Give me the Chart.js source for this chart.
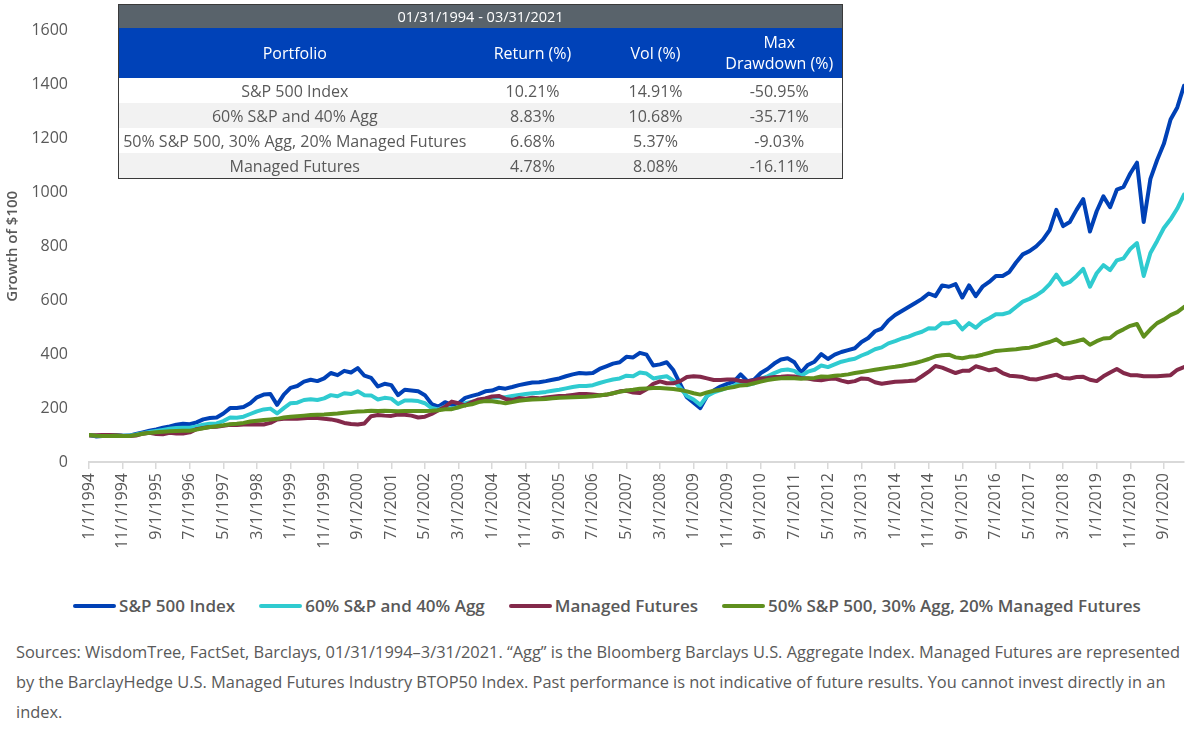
<!DOCTYPE html>
<html>
<head>
<meta charset="utf-8">
<title>Growth of $100</title>
<script src="https://cdn.jsdelivr.net/npm/chart.js@4.4.0/dist/chart.umd.min.js"></script>
<style>
  body { margin: 0; background: #fff; font-family: 'Open Sans', sans-serif; }
  #wrap { position: relative; width: 1200px; height: 735px; overflow: hidden; }
  #growth { position: absolute; left: 0; top: 0; }
  #stats { position: absolute; left: 118px; top: 4px; width: 724px; border-collapse: collapse;
           border: 1.5px solid #3a3a3a; table-layout: fixed; color: #595959; font-size: 16px; }
  #stats td, #stats th { padding: 0; text-align: center; white-space: nowrap; }
  #stats .period td { height: 23px; background: #59636b; color: #fff; font-size: 14.5px; }
  #stats .head th { height: 50px; background: #0042b8; color: #fff; font-weight: 400; line-height: 1.3; }
  #stats .row td { height: 25px; background: #fff; }
  #stats .row:nth-child(even) td { background: #f2f2f2; }
  #legend { position: absolute; left: 14px; top: 594px; width: 1186px; display: flex;
            justify-content: center; gap: 24px; font-weight: 600; font-size: 17px; color: #595959; }
  #legend .item { display: flex; align-items: center; }
  #legend .swatch { width: 43px; height: 4px; border-radius: 2px; margin-right: 3px; }
  #source { position: absolute; left: 16px; top: 637px; font-size: 16.4px; line-height: 30px;
            color: #595959; white-space: nowrap; }
</style>
</head>
<body>
<div id="wrap">
  <canvas id="growth" width="1200" height="565"></canvas>
  <table id="stats"></table>
  <div id="legend"></div>
  <div id="source">Sources: WisdomTree, FactSet, Barclays, 01/31/1994–3/31/2021. “Agg” is the Bloomberg Barclays U.S. Aggregate Index. Managed Futures are represented<br>by the BarclayHedge U.S. Managed Futures Industry BTOP50 Index. Past performance is not indicative of future results. You cannot invest directly in an<br>index.</div>
</div>
<script>
// month index from Jan 1994, one point every two months
const months = [0,2,4,6,8,10,12,14,16,18,20,22,24,26,28,30,32,34,36,38,40,42,44,46,48,50,52,54,56,58,
  60,62,64,66,68,70,72,74,76,78,80,82,84,86,88,90,92,94,96,98,100,102,104,106,108,110,112,114,116,118,
  120,122,124,126,128,130,132,134,136,138,140,142,144,146,148,150,152,154,156,158,160,162,164,166,168,170,172,174,176,178,
  180,182,184,186,188,190,192,194,196,198,200,202,204,206,208,210,212,214,216,218,220,222,224,226,228,230,232,234,236,238,
  240,242,244,246,248,250,252,254,256,258,260,262,264,266,268,270,272,274,276,278,280,282,284,286,288,290,292,294,296,298,
  300,302,304,306,308,310,312,314,316,318,320,322,324,326];

const sp500 = [100,95,96,97,99,97, 98,104,110,116,121,127, 132,138,142,140,147,158, 163,165,180,200,200,204,
  218,240,250,252,212,250, 275,282,298,305,300,310, 330,322,338,332,348,320, 312,280,290,285,248,268,
  265,262,248,215,205,222, 212,218,238,245,252,262, 265,275,272,278,285,290, 295,296,300,305,310,318,
  325,330,328,330,345,355, 365,370,390,388,405,398, 358,362,370,340,290,240, 220,200,245,265,280,290,
  298,325,300,305,330,345, 365,380,385,370,332,360, 372,400,382,398,408,415, 422,445,460,485,495,525,
  545,560,575,590,605,625, 615,655,650,660,610,655, 615,650,668,690,690,705, 740,770,782,800,825,860,
  935,875,890,935,975,855, 930,985,945,1010,1020,1070, 1110,890,1050,1120,1180,1270, 1315,1395];

const sixtyForty = [100,97,97,98,99,97, 98,102,107,111,115,119, 123,126,127,127,132,138, 142,143,152,165,164,168,
  178,188,195,198,180,200, 218,220,230,233,230,236, 248,244,255,252,262,248, 247,232,238,235,215,228,
  228,226,218,200,195,205, 198,203,218,224,228,235, 238,240,240,245,249,252, 255,257,260,264,268,273,
  278,282,282,285,293,300, 306,310,320,318,332,328, 310,314,318,302,275,245, 232,212,245,258,267,275,
  282,298,285,292,308,318, 330,340,343,338,320,335, 342,358,352,362,372,378, 383,395,405,418,425,440,
  448,458,465,475,483,496, 495,515,515,522,492,515, 498,520,533,548,548,555, 575,595,605,618,635,660,
  695,658,668,690,716,650, 700,730,712,748,755,790, 812,690,775,820,868,900, 940,992];

const managedFutures = [98,99,100,100,99,97, 96,98,105,108,104,103, 108,106,106,110,122,126, 130,131,134,138,137,139,
  139,140,139,145,158,160, 160,160,162,164,163,160, 158,153,145,141,139,143, 170,174,172,171,176,175,
  172,165,168,178,192,205, 224,218,210,222,232,236, 243,245,234,230,237,235, 238,236,239,242,245,246,
  249,252,252,250,248,249, 255,262,264,258,256,270, 290,299,292,292,300,315, 318,316,310,304,304,306,
  306,300,299,303,310,312, 315,316,318,317,312,310, 305,303,308,310,302,296, 300,310,308,296,290,294,
  298,299,300,302,318,335, 356,350,340,330,338,338, 355,348,340,345,330,320, 318,315,308,306,312,318,
  324,312,310,315,316,305, 300,318,332,345,330,322, 322,318,318,318,320,322, 342,352];

const blend = [100,97,96,96,97,96, 96,100,105,108,110,112, 114,115,116,116,120,125, 130,133,136,140,142,145,
  150,153,156,158,160,165, 168,170,172,174,175,176, 178,180,183,185,187,188, 190,189,190,189,188,189,
  189,189,189,190,192,196, 196,203,210,214,222,226, 225,222,218,222,227,230, 232,233,234,236,238,239,
  240,241,242,244,247,250, 255,260,265,268,272,273, 274,274,273,271,267,262, 255,250,258,264,268,274,
  278,284,286,292,298,304, 308,311,312,311,309,311, 312,317,316,320,322,325, 330,334,338,342,346,350,
  353,357,362,367,374,382, 392,396,398,388,385,390, 392,398,405,412,414,416, 418,422,424,430,438,445,
  455,437,442,448,455,435, 448,458,460,480,492,505, 512,465,492,515,528,545, 556,575];

const yTicks = [0, 200, 400, 600, 800, 1000, 1200, 1400, 1600];

// summary table
const period = '01/31/1994 - 03/31/2021';
const portfolios = ['S&P 500 Index', '60% S&P and 40% Agg', '50% S&P 500, 30% Agg, 20% Managed Futures', 'Managed Futures'];
const returns = ['10.21%', '8.83%', '6.68%', '4.78%'];
const vols = ['14.91%', '10.68%', '5.37%', '8.08%'];
const drawdowns = ['-50.95%', '-35.71%', '-9.03%', '-16.11%'];

const series = [
  { label: 'S&P 500 Index', values: sp500, color: '#0041b6', order: 4 },
  { label: '60% S&P and 40% Agg', values: sixtyForty, color: '#2fcbd0', order: 3 },
  { label: 'Managed Futures', values: managedFutures, color: '#83294a', order: 2 },
  { label: '50% S&P 500, 30% Agg, 20% Managed Futures', values: blend, color: '#5f8f1d', order: 1 }
];

function monthLabel(m) {
  return (m % 12 + 1) + '/1/' + (1994 + Math.floor(m / 12));
}

// table
const stats = document.getElementById('stats');
let html = '<colgroup><col style="width:352px"><col style="width:124px"><col style="width:122px"><col style="width:126px"></colgroup>';
html += '<tr class="period"><td colspan="4">' + period + '</td></tr>';
html += '<tr class="head"><th>Portfolio</th><th>Return (%)</th><th>Vol (%)</th><th>Max<br>Drawdown (%)</th></tr>';
portfolios.forEach(function(p, i) {
  html += '<tr class="row"><td>' + p.replace('&', '&amp;') + '</td><td>' + returns[i] + '</td><td>' +
    vols[i] + '</td><td>' + drawdowns[i] + '</td></tr>';
});
stats.innerHTML = html;

// legend
const legend = document.getElementById('legend');
series.forEach(function(s) {
  const item = document.createElement('div');
  item.className = 'item';
  const sw = document.createElement('span');
  sw.className = 'swatch';
  sw.style.background = s.color;
  const tx = document.createElement('span');
  tx.textContent = s.label;
  item.appendChild(sw);
  item.appendChild(tx);
  legend.appendChild(item);
});

const tickFont = { family: "'Open Sans', sans-serif", size: 16 };
const grey = '#595959';

new Chart(document.getElementById('growth'), {
  type: 'line',
  data: {
    datasets: series.map(function(s) {
      return {
        label: s.label,
        data: months.map(function(m, i) { return { x: m, y: s.values[i] }; }),
        borderColor: s.color,
        backgroundColor: s.color,
        borderWidth: 4,
        borderJoinStyle: 'round',
        borderCapStyle: 'round',
        pointRadius: 0,
        tension: 0,
        order: s.order
      };
    })
  },
  options: {
    responsive: false,
    animation: false,
    layout: { padding: { top: 13, right: 16, left: 0, bottom: 0 } },
    plugins: { legend: { display: false }, tooltip: { enabled: false } },
    scales: {
      x: {
        type: 'linear',
        min: 0,
        max: 326,
        afterBuildTicks: function(scale) {
          scale.ticks = scale.ticks.filter(function(t) { return t.value % 10 === 0; });
        },
        afterFit: function(scale) { scale.height = 103; },
        ticks: {
          stepSize: 10,
          autoSkip: false,
          maxRotation: 90,
          minRotation: 90,
          padding: 4,
          color: grey,
          font: tickFont,
          callback: function(v) { return monthLabel(v); }
        },
        grid: { display: true, drawOnChartArea: false, drawTicks: true, tickLength: 7, color: '#d9d9d9', lineWidth: 1.5 },
        border: { display: true, color: '#d9d9d9', width: 2 }
      },
      y: {
        min: 0,
        max: 1600,
        afterBuildTicks: function(scale) {
          scale.ticks = yTicks.map(function(v) { return { value: v }; });
        },
        afterFit: function(scale) { scale.width = 89; },
        ticks: { color: grey, font: tickFont, padding: 21, callback: function(v) { return String(v); } },
        grid: { display: false, drawTicks: false },
        border: { display: false },
        title: {
          display: true,
          text: 'Growth of $100',
          color: grey,
          font: { family: "'Open Sans', sans-serif", size: 15, weight: '600' },
          padding: { top: 4, bottom: 0 }
        }
      }
    }
  }
});
</script>
</body>
</html>
